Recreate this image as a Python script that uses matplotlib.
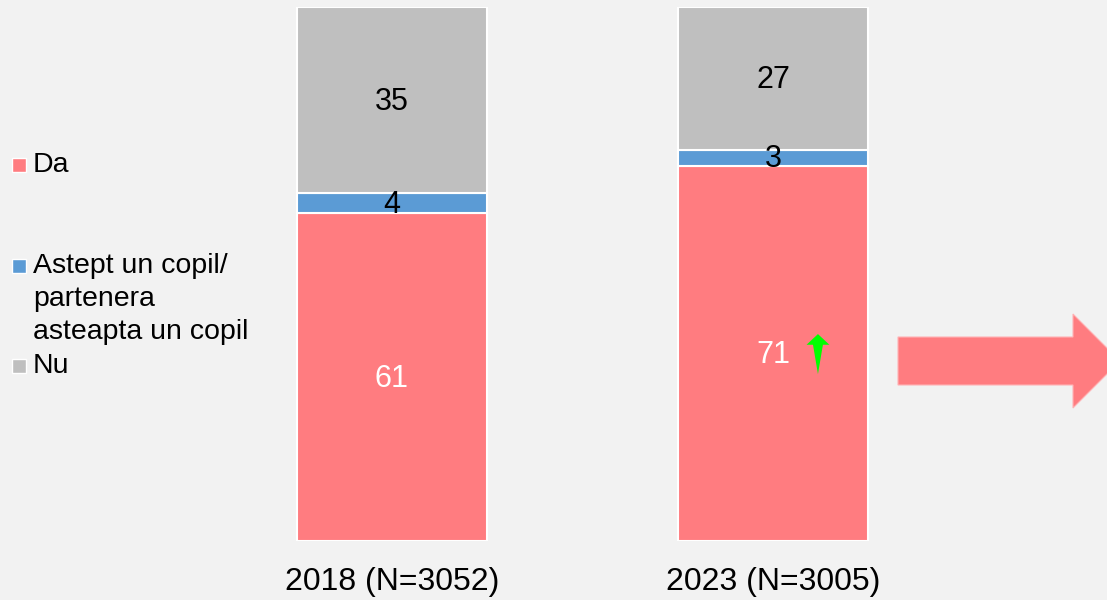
import numpy as np
import matplotlib
matplotlib.use("Agg")
import matplotlib.pyplot as plt
from matplotlib.patches import Polygon, Rectangle

plt.rcParams["font.family"] = ["Liberation Sans", "DejaVu Sans"]

categories = ["2018 (N=3052)", "2023 (N=3005)"]
series = ["Da", "Astept un copil/\npartenera\nasteapta un copil", "Nu"]
da_vals = [61.4, 70.3]
astept_vals = [3.7, 2.9]
nu_vals = [34.9, 26.8]
da_labels = ["61", "71"]
astept_labels = ["4", "3"]
nu_labels = ["35", "27"]
colors = ["#FF7C80", "#5B9BD5", "#BFBFBF"]
bg = "#F2F2F2"

W, H = 1107, 600
fig = plt.figure(figsize=(W / 100, H / 100), dpi=100, facecolor=bg)
ax = fig.add_axes([201.5 / W, 59 / H, 762 / W, 534 / H])
ax.set_facecolor(bg)

x = np.arange(len(categories))
bottom = np.zeros(len(categories))
vals_list = [da_vals, astept_vals, nu_vals]
labels_list = [da_labels, astept_labels, nu_labels]
txt_colors = ["white", "black", "black"]
for vals, labs, c, tc in zip(vals_list, labels_list, colors, txt_colors):
    vals = np.array(vals)
    ax.bar(x, vals, width=0.5, bottom=bottom, color=c, edgecolor="white", linewidth=1.5)
    for xi, b, v, lab in zip(x, bottom, vals, labs):
        ax.text(xi, b + v / 2 - 0.3, lab, ha="center", va="center", fontsize=22, color=tc)
    bottom += vals

ax.set_xlim(-0.5, 1.5)
ax.set_ylim(0, 100)
ax.set_xticks(x, categories, fontsize=23)
ax.set_yticks([])
ax.tick_params(length=0, pad=19)
for s in ax.spines.values():
    s.set_visible(False)

# small green up arrow next to the 2023 "Da" label
gx, gy = 1.118, da_vals[1] / 2
dx, dy = 0.03, 1.0
ax.add_patch(Polygon([(gx, gy + 3.6 * dy), (gx + dx, gy + 1.6 * dy), (gx + 0.013, gy + 1.6 * dy),
                      (gx, gy - 3.9 * dy), (gx - 0.013, gy + 1.6 * dy), (gx - dx, gy + 1.6 * dy)],
                     closed=True, color="#00FF00", lw=0))

# big pink arrow on the right (pixel coords, y from top)
pts = [(898, 337), (1073, 337), (1073, 314), (1120, 361), (1073, 408), (1073, 385), (898, 385)]
fig.patches.append(Polygon([(px / W, 1 - py / H) for px, py in pts], closed=True,
                           transform=fig.transFigure, facecolor=colors[0], edgecolor="#FFB3B5", lw=0.8))

# legend on the left
legend_y = [165, 266, 366]
for name, c, ly in zip(series, colors, legend_y):
    fig.patches.append(Rectangle((12 / W, 1 - (ly + 7) / H), 14 / W, 14 / H, transform=fig.transFigure,
                                 facecolor=c, edgecolor="white", lw=1))
    for i, line in enumerate(name.split("\n")):
        fig.text(33 / W, 1 - (ly + i * 33) / H, line, ha="left", va="center", fontsize=20.5)

fig.savefig("out.png", dpi=100, facecolor=bg)
